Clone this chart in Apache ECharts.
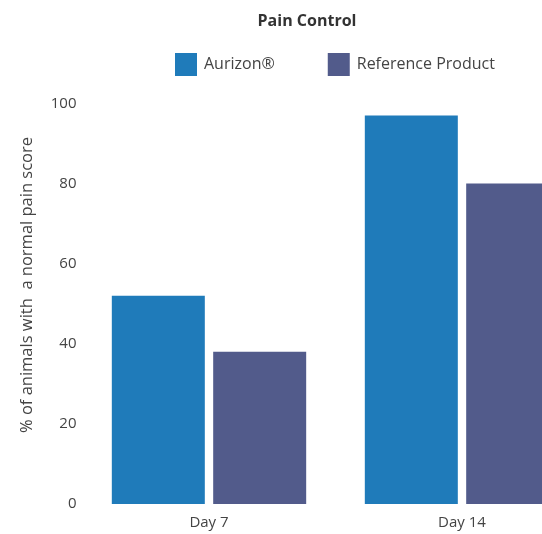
<!DOCTYPE html>
<html><head><meta charset="utf-8">
<script src="https://cdn.jsdelivr.net/npm/echarts@6/dist/echarts.min.js"></script>
<style>html,body{margin:0;padding:0;background:#fff}#c{width:542px;height:534px}</style>
</head><body><div id="c"></div>
<script>
const categories = ['Day 7', 'Day 14'];
const seriesNames = ['Aurizon®', 'Reference Product'];
const aurizon = [52, 97];
const reference = [38, 80];
const yTicks = [0, 20, 40, 60, 80, 100];
const yAxisTitle = '% of animals with  a normal pain score';
const chartTitle = 'Pain Control';

const font = 'Open Sans';
const chart = echarts.init(document.getElementById('c'));
chart.setOption({
  animation: false,
  title: {
    text: chartTitle, left: 302, top: 8, textAlign: 'center',
    textStyle: {fontFamily: font, fontWeight: 'bold', fontSize: 16, color: '#333'}
  },
  legend: {
    left: 170, top: 48, itemWidth: 22, itemHeight: 23, itemGap: 53,
    icon: 'rect',
    textStyle: {fontFamily: font, fontSize: 16, color: '#444', padding: [0,0,0,2]},
    data: seriesNames
  },
  graphic: [{
    type: 'text', x: 27, y: 285, rotation: Math.PI / 2,
    style: {text: yAxisTitle, fontFamily: font, fontSize: 16.5, fill: '#444', align: 'center', verticalAlign: 'middle'}
  }],
  grid: {left: 82.5, width: 506, top: 103.5, bottom: 30, outerBoundsMode: 'none', containLabel: false},
  xAxis: {
    type: 'category', data: categories,
    axisLine: {show: false}, axisTick: {show: false},
    axisLabel: {fontFamily: font, fontSize: 15, color: '#444', margin: 11}
  },
  yAxis: {
    type: 'value', min: 0, max: 100, interval: 20,
    axisLine: {show: false}, axisTick: {show: false}, splitLine: {show: false},
    axisLabel: {fontFamily: font, fontSize: 15, color: '#444', margin: 6,
      formatter: v => yTicks.includes(v) ? String(v) : ''}
  },
  series: [
    {name: seriesNames[0], type: 'bar', data: aurizon, barWidth: 93, barGap: '9%',
     itemStyle: {color: '#1f7bba'}},
    {name: seriesNames[1], type: 'bar', data: reference, barWidth: 93,
     itemStyle: {color: '#525b8b'}}
  ]
});
</script></body></html>
